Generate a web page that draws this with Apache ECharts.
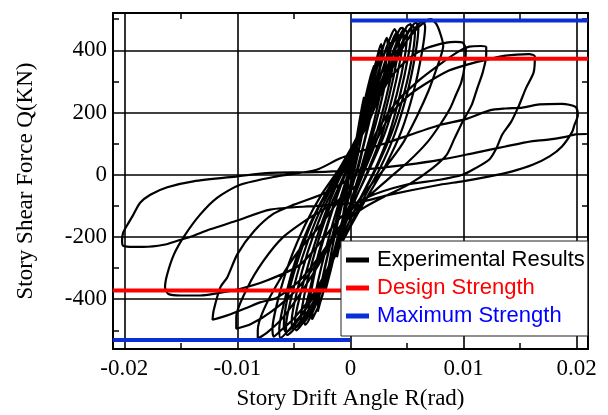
<!DOCTYPE html>
<html><head><meta charset="utf-8">
<script src="https://cdn.jsdelivr.net/npm/echarts@6/dist/echarts.min.js"></script>
<style>html,body{margin:0;padding:0;background:#fff}#c{width:608px;height:415px}</style>
</head><body><div id="c"></div>
<script>
// ---- axis ranges & ticks ----
const xMin = -0.021, xMax = 0.021;
const yMin = -560, yMax = 520;
const xMajor = [-0.02, -0.01, 0, 0.01, 0.02];
const xTickLabels = ['-0.02', '-0.01', '0', '0.01', '0.02'];
const xMinor = [-0.015, -0.005, 0.005, 0.015];
const yMajor = [-400, -200, 0, 200, 400];
const yTickLabels = ['-400', '-200', '0', '200', '400'];
const yMinor = [-500, -300, -100, 100, 300, 500];

// ---- strength levels ----
const designPos = [[0, 373], [0.021, 373]];
const designNeg = [[-0.021, -372], [0, -372]];
const maxPos = [[0, 496], [0.021, 496]];
const maxNeg = [[-0.021, -531], [0, -531]];

// ---- experimental hysteresis loops [R(rad), Q(kN)] ----
const loop1 = [[0,0],[0.0005,110],[0.001,215],[0.0012,250],[0.001,190],[0.0005,70],[0,-30],[-0.0005,-130],[-0.001,-230],[-0.0012,-265],[-0.0009,-190],[-0.0004,-70],[0,20]];
const loop2 = [[0.0006,130],[0.0012,230],[0.0018,320],[0.0021,352],[0.0019,290],[0.0012,160],[0.0005,40],[-0.0003,-80],[-0.001,-190],[-0.0017,-300],[-0.0022,-370],[-0.002,-310],[-0.0013,-180],[-0.0005,-60],[0.0002,40]];
const loop3 = [[0.0009,160],[0.0016,270],[0.0023,370],[0.0027,420],[0.0028,398],[0.0024,300],[0.0016,160],[0.0007,30],[-0.0002,-80],[-0.0011,-200],[-0.002,-320],[-0.0026,-400],[-0.0029,-440],[-0.0028,-400],[-0.0022,-290],[-0.0013,-150],[-0.0004,-30],[0.0004,70]];
const loop3b = [[0.0008,120],[0.0016,240],[0.0022,340],[0.0025,390],[0.0027,400],[0.0027,380],[0.0023,290],[0.0015,150],[0.0006,20],[-0.0003,-90],[-0.0012,-210],[-0.002,-320],[-0.0025,-390],[-0.0028,-420],[-0.0029,-405],[-0.0027,-370],[-0.0021,-270],[-0.0012,-140],[-0.0003,-20],[0.0005,80]];
const loop4 = [[0.0012,190],[0.0021,310],[0.0028,400],[0.0032,440],[0.0033,415],[0.0029,310],[0.002,160],[0.001,30],[0,-90],[-0.001,-210],[-0.002,-330],[-0.0028,-420],[-0.0034,-465],[-0.0033,-420],[-0.0026,-300],[-0.0016,-160],[-0.0006,-40],[0.0003,60]];
const loop4b = [[0.0013,170],[0.0022,290],[0.0029,380],[0.0033,420],[0.0035,425],[0.0035,400],[0.0031,300],[0.0022,160],[0.0012,40],[0.0001,-80],[-0.001,-200],[-0.0021,-320],[-0.003,-410],[-0.0035,-445],[-0.0037,-440],[-0.0036,-400],[-0.003,-290],[-0.002,-160],[-0.0009,-40],[0.0002,60]];
const loop5 = [[0.0013,180],[0.0023,310],[0.0031,400],[0.0036,448],[0.0039,468],[0.0041,450],[0.0038,360],[0.0031,240],[0.0021,110],[0.001,0],[-0.0001,-100],[-0.0012,-220],[-0.0023,-340],[-0.0032,-430],[-0.004,-482],[-0.0041,-460],[-0.0036,-370],[-0.0028,-250],[-0.0018,-130],[-0.0007,-20],[0.0003,70]];
const loop5b = [[0.0014,170],[0.0025,300],[0.0033,390],[0.0038,440],[0.0041,455],[0.0043,440],[0.0041,370],[0.0034,250],[0.0024,120],[0.0012,10],[0.0001,-90],[-0.0011,-210],[-0.0024,-340],[-0.0034,-430],[-0.0041,-472],[-0.0044,-470],[-0.0043,-430],[-0.0038,-340],[-0.003,-230],[-0.002,-120],[-0.0008,-20],[0.0002,60]];
const loop6 = [[0.0014,180],[0.0025,300],[0.0034,390],[0.0041,450],[0.0044,470],[0.0046,472],[0.0047,455],[0.0044,370],[0.0037,250],[0.0027,120],[0.0015,10],[0.0003,-90],[-0.001,-210],[-0.0022,-330],[-0.0033,-420],[-0.0042,-475],[-0.0048,-500],[-0.0049,-470],[-0.0044,-380],[-0.0035,-260],[-0.0024,-140],[-0.0012,-30],[0,60]];
const loop6b = [[0.0015,170],[0.0027,290],[0.0037,390],[0.0044,450],[0.0048,468],[0.005,455],[0.0048,380],[0.0041,260],[0.003,130],[0.0017,20],[0.0004,-80],[-0.0009,-200],[-0.0023,-330],[-0.0036,-430],[-0.0046,-485],[-0.0051,-495],[-0.0052,-470],[-0.0047,-370],[-0.0038,-250],[-0.0026,-130],[-0.0013,-30],[0,50]];
const loop7 = [[0.0013,170],[0.0026,290],[0.0037,385],[0.0046,450],[0.005,478],[0.0053,484],[0.0054,465],[0.0051,380],[0.0044,260],[0.0034,130],[0.0022,20],[0.0008,-80],[-0.0006,-190],[-0.002,-310],[-0.0033,-410],[-0.0045,-475],[-0.0056,-515],[-0.0057,-485],[-0.0052,-390],[-0.0043,-270],[-0.0031,-150],[-0.0018,-50],[-0.0004,40]];
const loop7b = [[0.0015,160],[0.0029,290],[0.0041,390],[0.005,455],[0.0055,478],[0.0057,462],[0.0055,390],[0.0048,270],[0.0037,140],[0.0024,30],[0.001,-70],[-0.0005,-180],[-0.002,-300],[-0.0036,-410],[-0.0049,-480],[-0.0057,-505],[-0.0059,-490],[-0.0056,-400],[-0.0047,-280],[-0.0034,-150],[-0.002,-50],[-0.0005,30]];
const loop8 = [[0.0012,160],[0.0026,280],[0.0039,380],[0.005,450],[0.0055,480],[0.0058,489],[0.006,470],[0.0057,380],[0.005,260],[0.0039,130],[0.0026,20],[0.0011,-80],[-0.0004,-190],[-0.0019,-300],[-0.0034,-400],[-0.0048,-470],[-0.0062,-524],[-0.0063,-495],[-0.0058,-400],[-0.0049,-280],[-0.0036,-160],[-0.0022,-60],[-0.0007,30]];
const loop8b = [[0.0013,150],[0.0028,270],[0.0042,380],[0.0054,455],[0.0061,488],[0.0064,494],[0.0066,475],[0.0063,390],[0.0056,270],[0.0045,140],[0.0031,30],[0.0015,-70],[-0.0002,-180],[-0.0018,-290],[-0.0035,-395],[-0.0051,-465],[-0.0063,-505],[-0.0068,-520],[-0.0069,-495],[-0.0064,-400],[-0.0054,-280],[-0.004,-160],[-0.0025,-60],[-0.0009,25]];
const loop9 = [[0.001,150],[0.0025,270],[0.004,380],[0.0055,455],[0.0065,490],[0.0071,500],[0.0076,484],[0.008,447],[0.0082,415],[0.008,383],[0.0076,340],[0.0069,270],[0.0059,190],[0.0046,100],[0.003,20],[0.0012,-60],[-0.0006,-150],[-0.0025,-270],[-0.0044,-380],[-0.006,-460],[-0.0073,-505],[-0.0082,-527],[-0.0082,-500],[-0.0077,-436],[-0.0063,-340],[-0.0046,-245],[-0.0026,-160],[-0.001,-80],[0.0005,0]];
const loop10 = [[0.0018,190],[0.0035,310],[0.0052,375],[0.0068,408],[0.0085,425],[0.0093,427],[0.0099,425],[0.0102,404],[0.0101,351],[0.0098,298],[0.0093,255],[0.0088,213],[0.0079,160],[0.0068,105],[0.0052,45],[0.0033,-15],[0.0013,-80],[-0.0007,-160],[-0.0027,-270],[-0.0048,-370],[-0.007,-440],[-0.0088,-480],[-0.0101,-495],[-0.0101,-457],[-0.0091,-362],[-0.0077,-277],[-0.006,-202],[-0.0036,-138],[-0.0012,-85],[0.0008,-20]];
const loop11 = [[0.0022,130],[0.0041,235],[0.0061,305],[0.0079,355],[0.0095,395],[0.0105,412],[0.0115,414],[0.012,410],[0.012,383],[0.0117,330],[0.0112,277],[0.0107,223],[0.0099,170],[0.0092,117],[0.0085,64],[0.0072,20],[0.0052,-30],[0.003,-70],[0.001,-110],[-0.0008,-160],[-0.0025,-250],[-0.0045,-340],[-0.0065,-395],[-0.008,-410],[-0.0092,-428],[-0.0109,-452],[-0.0122,-466],[-0.0121,-436],[-0.0115,-361],[-0.0109,-330],[-0.01,-255],[-0.0085,-180],[-0.0068,-125],[-0.005,-96],[-0.0019,-53],[0.001,20]];
const loop12 = [[0.002,90],[0.0035,191],[0.005,250],[0.0064,287],[0.0087,335],[0.0104,355],[0.0117,367],[0.0137,383],[0.0158,388],[0.0163,380],[0.0162,330],[0.0155,277],[0.0149,223],[0.0142,170],[0.0134,128],[0.0129,85],[0.0123,50],[0.011,20],[0.0099,0],[0.0079,-16],[0.0049,-32],[0.0014,-74],[-0.0009,-138],[-0.0025,-210],[-0.0045,-290],[-0.0074,-340],[-0.0098,-367],[-0.0121,-383],[-0.0133,-388],[-0.015,-388],[-0.0161,-383],[-0.0164,-361],[-0.0162,-319],[-0.0156,-255],[-0.0147,-197],[-0.0133,-128],[-0.0118,-74],[-0.00975,-32],[-0.0065,-5],[-0.003,16]];
const loop13 = [[-0.0009,53],[0.0035,106],[0.0079,160],[0.0101,178],[0.0123,207],[0.0137,213],[0.0152,216],[0.0167,226],[0.0187,228],[0.0199,218],[0.0201,191],[0.0198,160],[0.0196,138],[0.0187,91],[0.0176,59],[0.0161,32],[0.0143,11],[0.0123,-5],[0.0099,-21],[0.0079,-32],[0.0035,-64],[0.0008,-88],[-0.003,-100],[-0.0071,-112],[-0.01,-147],[-0.0124,-175],[-0.0142,-200],[-0.0153,-212],[-0.0165,-225],[-0.0183,-232],[-0.0192,-232],[-0.0201,-228],[-0.0202,-212],[-0.0201,-186],[-0.0197,-159],[-0.0192,-128],[-0.0186,-90],[-0.0177,-64],[-0.0162,-40],[-0.0139,-21],[-0.01,-5],[-0.0071,6],[-0.004,8],[-0.001,12],[0.002,20],[0.0049,32],[0.0079,48],[0.0108,69],[0.0137,91],[0.0161,108],[0.0173,112],[0.019,122],[0.0199,130],[0.0209,131]];

const experimental = [].concat(loop1, loop2, loop3, loop3b, loop4, loop4b, loop5, loop5b, loop6, loop6b,
  loop7, loop7b, loop8, loop8b, loop9, loop10, loop11, loop12, loop13);

const seriesNames = ['Experimental Results', 'Design Strength', 'Maximum Strength'];
const seriesColors = ['#000000', '#ff0000', '#0a2fd8'];
const legendTextColors = ['#000000', '#ff0000', '#0000ff'];

function pick(list, labels, v) {
  const i = list.findIndex(m => Math.abs(m - v) < 1e-9 * Math.max(1, Math.abs(m)));
  return i >= 0 ? labels[i] : '';
}

const serif = 'Liberation Serif';
const lineBlack = {color: '#000', width: 2};
const tickStyle = {color: '#000', width: 1.5};
const gridStyle = {color: '#000', width: 1.6};

const chart = echarts.init(document.getElementById('c'), null, {renderer: 'canvas'});
chart.setOption({
  animation: false,
  backgroundColor: '#fff',
  grid: {left: 113, right: 20, top: 13, bottom: 63, containLabel: false},
  xAxis: [
    {type: 'value', min: xMin, max: xMax, position: 'bottom',
     axisLine: {show: true, onZero: false, lineStyle: lineBlack},
     axisTick: {show: true, inside: true, length: 6, customValues: xMinor, lineStyle: tickStyle},
     axisLabel: {show: true, customValues: xMajor, margin: 8, fontFamily: serif, fontSize: 23, color: '#000',
                 formatter: v => pick(xMajor, xTickLabels, v)},
     splitLine: {show: false},
     name: 'Story Drift Angle R(rad)', nameLocation: 'middle', nameGap: 38,
     nameTextStyle: {fontFamily: serif, fontSize: 23, color: '#000'}},
    {type: 'value', min: xMin, max: xMax, position: 'top',
     axisLine: {show: true, onZero: false, lineStyle: lineBlack},
     axisTick: {show: true, inside: true, length: 6, customValues: xMinor, lineStyle: tickStyle},
     axisLabel: {show: false}, splitLine: {show: false}},
    {type: 'value', min: xMin, max: xMax, position: 'bottom',
     axisLine: {show: false, onZero: false},
     axisTick: {show: false, customValues: xMajor},
     axisLabel: {show: false},
     splitLine: {show: true, lineStyle: gridStyle}}
  ],
  yAxis: [
    {type: 'value', min: yMin, max: yMax, position: 'left',
     axisLine: {show: true, onZero: false, lineStyle: lineBlack},
     axisTick: {show: true, inside: true, length: 6, customValues: yMinor, lineStyle: tickStyle},
     axisLabel: {show: true, customValues: yMajor, margin: 6, fontFamily: serif, fontSize: 23, color: '#000',
                 formatter: v => pick(yMajor, yTickLabels, v)},
     splitLine: {show: false},
     name: 'Story Shear Force Q(KN)', nameLocation: 'middle', nameGap: 76,
     nameTextStyle: {fontFamily: serif, fontSize: 23, color: '#000'}},
    {type: 'value', min: yMin, max: yMax, position: 'right',
     axisLine: {show: true, onZero: false, lineStyle: lineBlack},
     axisTick: {show: true, inside: true, length: 6, customValues: yMinor, lineStyle: tickStyle},
     axisLabel: {show: false}, splitLine: {show: false}},
    {type: 'value', min: yMin, max: yMax, position: 'left',
     axisLine: {show: false, onZero: false},
     axisTick: {show: false, customValues: yMajor},
     axisLabel: {show: false},
     splitLine: {show: true, lineStyle: gridStyle}}
  ],
  legend: {
    orient: 'vertical', left: 341, top: 241,
    backgroundColor: '#fff', borderColor: '#222', borderWidth: 1,
    padding: [8, 3, 9, 5], itemGap: 6,
    icon: 'rect', itemWidth: 23, itemHeight: 5,
    textStyle: {fontFamily: 'Liberation Sans', fontSize: 22, padding: [0, 0, 0, 3]},
    data: seriesNames.map((n, i) => ({name: n, textStyle: {color: legendTextColors[i]}}))
  },
  series: [
    {name: seriesNames[1], type: 'line', data: designPos, symbol: 'none', color: seriesColors[1],
     lineStyle: {color: seriesColors[1], width: 4}, z: 3},
    {name: seriesNames[1], type: 'line', data: designNeg, symbol: 'none', color: seriesColors[1],
     lineStyle: {color: seriesColors[1], width: 4}, z: 3},
    {name: seriesNames[2], type: 'line', data: maxPos, symbol: 'none', color: seriesColors[2],
     lineStyle: {color: seriesColors[2], width: 4}, z: 3},
    {name: seriesNames[2], type: 'line', data: maxNeg, symbol: 'none', color: seriesColors[2],
     lineStyle: {color: seriesColors[2], width: 4}, z: 3},
    {name: seriesNames[0], type: 'line', data: experimental, symbol: 'none', color: seriesColors[0],
     smooth: 0.25, lineStyle: {color: seriesColors[0], width: 2.2}, z: 2}
  ]
});
</script></body></html>
